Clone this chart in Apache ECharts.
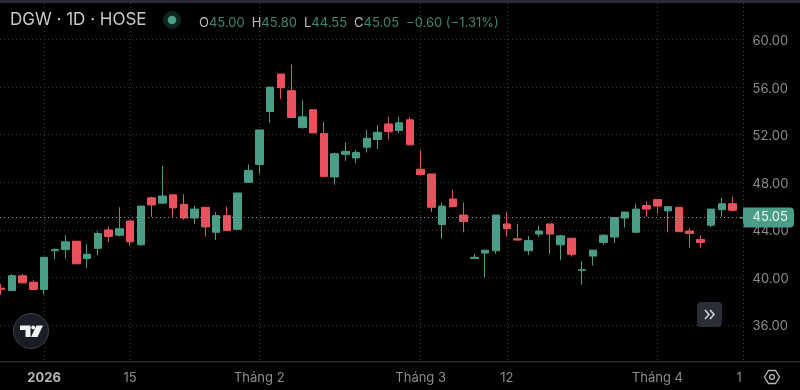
<!DOCTYPE html>
<html>
<head>
<meta charset="utf-8">
<style>
  html, body { margin: 0; padding: 0; background: #000; }
  #chart { width: 800px; height: 390px; }
</style>
<script src="https://cdn.jsdelivr.net/npm/echarts@6/dist/echarts.min.js"></script>
</head>
<body>
<div id="chart"></div>
<script>
const upColor = '#4a9d87'
const downColor = '#e9525c'

const opens = [39.1, 38.9, 40.15, 39.6, 39.0, 42.25, 42.35, 43.05, 41.6, 42.45,
  44.0, 43.55, 44.75, 42.75, 46.7, 46.25, 46.95, 46.15, 45.0, 45.9,
  43.8, 45.2, 44.05, 48.0, 49.5, 53.95, 57.1, 55.7, 52.6, 54.1,
  52.1, 48.45, 50.35, 50.05, 50.95, 51.6, 52.9, 52.35, 53.25, 49.1,
  48.7, 44.45, 46.6, 45.25, 41.6, 42.05, 42.25, 44.5, 43.25, 42.25,
  43.65, 44.5, 42.75, 43.3, 40.6, 41.8, 42.95, 43.4, 45.0, 43.8,
  46.05, 46.55, 45.6, 45.9, 43.9, 43.2, 44.4, 45.7, 46.2, 45.0]
const closes = [39.0, 40.15, 39.55, 39.0, 41.7, 42.35, 43.0, 41.15, 41.95, 43.7,
  43.45, 44.1, 43.0, 46.0, 46.1, 46.85, 45.85, 45.0, 45.75, 44.25,
  45.2, 43.95, 47.1, 49.0, 52.4, 56.0, 55.95, 53.45, 53.5, 52.15,
  48.5, 50.4, 50.6, 50.5, 51.7, 52.2, 52.25, 53.0, 51.15, 48.65,
  45.9, 46.0, 45.95, 44.7, 41.7, 42.3, 45.25, 44.1, 43.15, 43.1,
  43.9, 43.65, 43.5, 41.95, 40.65, 42.3, 43.55, 45.05, 45.5, 45.75,
  45.75, 46.0, 45.95, 43.85, 43.7, 42.95, 45.75, 46.2, 45.65, 45.05]
const lows = [38.55, 38.9, 39.5, 38.95, 38.55, 41.55, 41.6, 41.15, 40.8, 41.85,
  43.0, 43.45, 42.65, 42.65, 45.1, 46.2, 45.1, 44.85, 44.5, 43.45,
  43.15, 43.95, 44.05, 48.0, 48.7, 53.0, 55.0, 53.45, 52.5, 52.15,
  48.5, 47.8, 49.8, 49.6, 50.5, 50.8, 51.6, 52.15, 51.1, 48.65,
  45.5, 43.25, 45.95, 43.8, 41.6, 40.0, 42.0, 43.45, 43.05, 41.9,
  43.45, 42.0, 41.45, 41.75, 39.4, 41.0, 42.75, 42.9, 44.2, 43.8,
  45.1, 45.35, 43.8, 43.85, 42.5, 42.5, 44.25, 45.1, 45.55, 44.55]
const highs = [39.45, 40.3, 40.3, 39.8, 41.7, 42.45, 43.55, 43.05, 42.8, 43.9,
  44.3, 45.9, 44.75, 46.0, 46.8, 49.35, 46.95, 47.0, 46.0, 45.9,
  45.5, 45.95, 47.1, 49.5, 52.4, 56.0, 57.1, 57.9, 54.9, 54.1,
  53.05, 50.5, 51.35, 50.7, 52.4, 52.8, 53.5, 53.5, 53.5, 50.7,
  48.7, 46.3, 47.4, 46.3, 41.95, 42.3, 45.25, 45.5, 44.5, 43.5,
  44.35, 44.5, 43.6, 43.3, 41.35, 42.3, 43.65, 45.05, 45.5, 46.2,
  46.4, 46.55, 45.95, 45.9, 44.15, 43.55, 45.75, 46.7, 46.8, 45.8]

const priceTicks = [36, 40, 44, 48, 52, 56, 60]
const gridTicks = [4, 12, 24, 39, 47, 61, 69]
const labelTicks = [4, 12, 24, 39, 47, 61, 68.6]
const timeLabels = ['{y|2026}', '15', 'Tháng 2', 'Tháng 3', '12', 'Tháng 4', '1']
const lastPrice = 45.05

const candles = opens.map((o, i) => [i, o, closes[i], lows[i], highs[i]])

const chart = echarts.init(document.getElementById('chart'), null, { renderer: 'canvas' })
const font = 'Inter, "Noto Sans", sans-serif'
const gridLine = { color: '#3b3b3b', width: 1, type: [1, 3] }

chart.setOption({
  animation: false,
  backgroundColor: '#000',
  textStyle: { fontFamily: font },
  title: [
    {
      text: 'DGW · 1D · HOSE',
      left: 10, top: 11, padding: 0,
      textStyle: { color: '#c9c9c9', fontSize: 17, fontWeight: 400, fontFamily: font },
    },
    {
      text: '{k|O}{v|45.00}{g|}{k|H}{v|45.80}{g|}{k|L}{v|44.55}{g|}{k|C}{v|45.05}{g|}{v|−0.60 (−1.31%)}',
      left: 199, top: 14, padding: 0,
      textStyle: {
        fontFamily: font,
        fontWeight: 400,
        rich: {
          k: { color: '#bdbdbd', fontSize: 13, fontWeight: 400, fontFamily: font },
          v: { color: '#3f8674', fontSize: 13, fontWeight: 400, fontFamily: font },
          g: { width: 7 },
        },
      },
    },
  ],
  grid: { left: 0, right: 56.5, top: 3, bottom: 28.5 },
  xAxis: {
    type: 'value',
    min: -0.093,
    max: 69,
    axisLine: { show: false },
    axisTick: { show: false, customValues: gridTicks },
    splitLine: { show: true, lineStyle: gridLine },
    axisLabel: {
      show: true,
      customValues: labelTicks,
      hideOverlap: false,
      color: '#8c8c8c',
      fontSize: 13,
      margin: 10,
      formatter: (value) => timeLabels[labelTicks.indexOf(value)],
      rich: { y: { color: '#b5b5b5', fontSize: 13, fontWeight: 700, fontFamily: font } },
    },
  },
  yAxis: {
    type: 'value',
    position: 'right',
    min: 32.94,
    max: 63.07,
    axisLine: { show: false },
    axisTick: { show: false, customValues: priceTicks },
    splitLine: { show: true, lineStyle: gridLine },
    axisLabel: {
      customValues: priceTicks,
      margin: 9,
      formatter: (value) => `{p|${value.toFixed(2)}}`,
      rich: { p: { color: '#8c8c8c', fontSize: 13, fontFamily: font, padding: [3, 0, 0, 0] } },
    },
  },
  series: [
    {
      type: 'candlestick',
      data: candles,
      barWidth: 8,
      itemStyle: {
        color: upColor,
        borderColor: upColor,
        color0: downColor,
        borderColor0: downColor,
        borderWidth: 1,
      },
      markLine: {
        silent: true,
        symbol: 'none',
        lineStyle: { color: '#8f8f8f', width: 1, type: [1, 3] },
        label: {
          show: true,
          position: 'end',
          distance: 0,
          color: '#eef5f3',
          fontSize: 13,
          backgroundColor: upColor,
          padding: [4, 6, 3, 9],
          borderRadius: [0, 4, 4, 0],
          formatter: lastPrice.toFixed(2),
        },
        data: [{ yAxis: lastPrice }],
      },
    },
  ],
  graphic: [
    { type: 'rect', shape: { x: 0, y: 0, width: 800, height: 3 }, style: { fill: '#2b2b31' }, z: 10 },
    { type: 'rect', shape: { x: 0, y: 361, width: 800, height: 1.5 }, style: { fill: '#2a2a2e' }, z: 10 },
    // status dot
    { type: 'circle', shape: { cx: 172, cy: 20, r: 9 }, style: { fill: '#12241f' }, z: 10 },
    { type: 'circle', shape: { cx: 172, cy: 20, r: 4.3 }, style: { fill: upColor }, z: 11 },
    // logo
    { type: 'circle', shape: { cx: 31, cy: 331, r: 17.5 }, style: { fill: '#1a1c26', stroke: '#3f414b', lineWidth: 1 }, z: 10 },
    {
      type: 'polygon',
      shape: { points: [[20, 325.5], [30.5, 325.5], [30.5, 337], [25.5, 337], [25.5, 330], [20, 330]] },
      style: { fill: '#f2f2f2' },
      z: 11,
    },
    {
      type: 'polygon',
      shape: { points: [[36.5, 325.5], [43, 325.5], [37.5, 337], [31, 337]] },
      style: { fill: '#f2f2f2' },
      z: 11,
    },
    { type: 'circle', shape: { cx: 33.2, cy: 327.6, r: 2 }, style: { fill: '#f2f2f2' }, z: 11 },
    // scroll button
    { type: 'rect', shape: { x: 697, y: 302, width: 25, height: 25, r: 4 }, style: { fill: '#2a2c38' }, z: 10 },
    {
      type: 'polyline',
      shape: { points: [[705, 310], [709, 314.5], [705, 319]] },
      style: { stroke: '#d6d6d6', lineWidth: 1.6, fill: null },
      z: 11,
    },
    {
      type: 'polyline',
      shape: { points: [[710, 310], [714, 314.5], [710, 319]] },
      style: { stroke: '#d6d6d6', lineWidth: 1.6, fill: null },
      z: 11,
    },
    // settings
    {
      type: 'polygon',
      shape: { points: [[764.5, 377], [768.5, 370.5], [775.5, 370.5], [779.5, 377], [775.5, 383.5], [768.5, 383.5]] },
      style: { stroke: '#b9b9b9', lineWidth: 1.3, fill: null },
      z: 10,
    },
    { type: 'circle', shape: { cx: 772, cy: 377, r: 2.4 }, style: { stroke: '#b9b9b9', lineWidth: 1.3, fill: null }, z: 10 },
  ],
})
</script>
</body>
</html>
